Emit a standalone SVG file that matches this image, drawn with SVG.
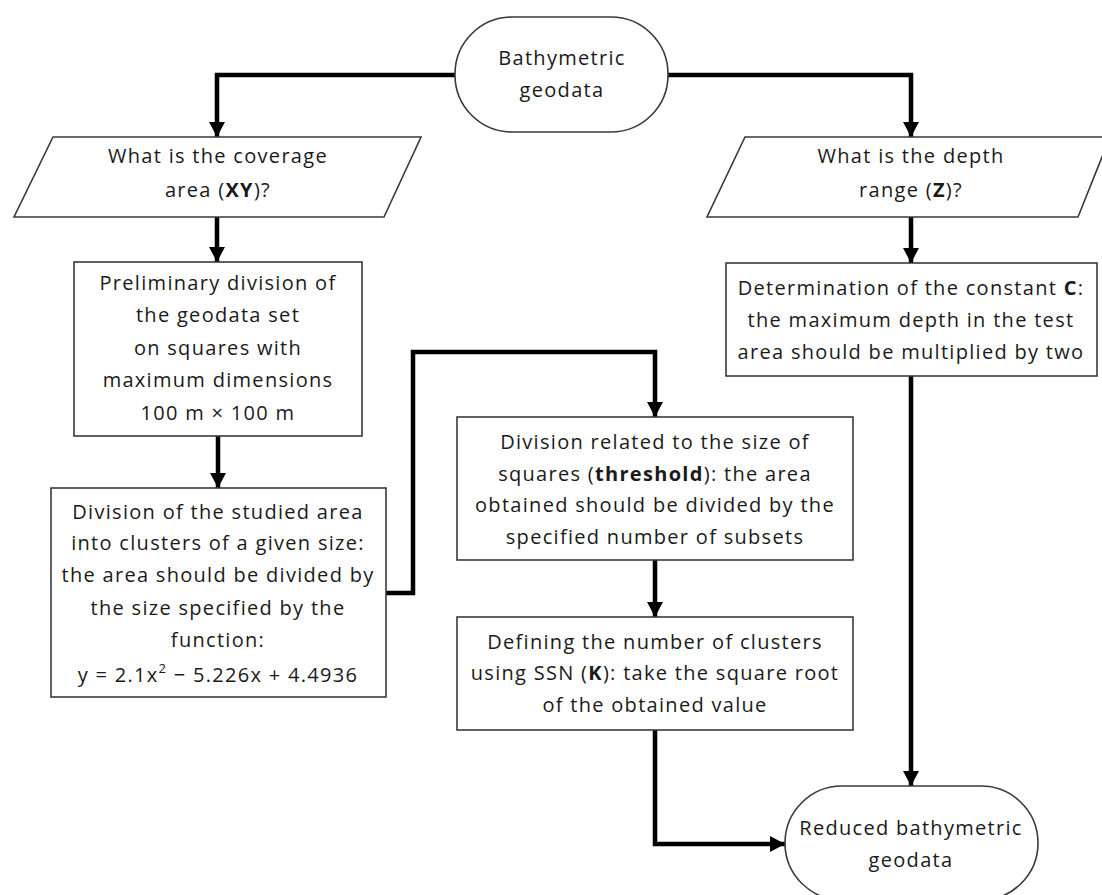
<svg xmlns="http://www.w3.org/2000/svg" width="1102" height="895" viewBox="0 0 1102 895">
<style>
.shape{fill:#fff;stroke:#3a3a3a;stroke-width:1.6}
.t{font-family:"Open Sans","Liberation Sans",sans-serif;font-size:20px;letter-spacing:1.3px;fill:#1a1a1a;text-anchor:middle}
.b{font-weight:bold}
.c{fill:none;stroke:#000;stroke-width:4.5;stroke-linejoin:miter}
</style>
<defs>
<marker id="ah" markerUnits="userSpaceOnUse" markerWidth="16" markerHeight="16" refX="15" refY="8" orient="auto">
<path d="M0,0 L15,8 L0,16 z" fill="#000"/>
</marker>
</defs>
<rect width="1102" height="895" fill="#fff"/>
<g id="connectors">
<path class="c" d="M455,75 H217 V137" marker-end="url(#ah)"/>
<path class="c" d="M668,75 H911 V137" marker-end="url(#ah)"/>
<path class="c" d="M217,217 V262" marker-end="url(#ah)"/>
<path class="c" d="M911,217 V263" marker-end="url(#ah)"/>
<path class="c" d="M218,436 V488" marker-end="url(#ah)"/>
<path class="c" d="M386,593 H413 V352 H655 V417" marker-end="url(#ah)"/>
<path class="c" d="M655,560 V617" marker-end="url(#ah)"/>
<path class="c" d="M911,376 V786" marker-end="url(#ah)"/>
<path class="c" d="M655,730 V844 H785" marker-end="url(#ah)"/>
</g>
<g id="start">
<rect class="shape" x="455" y="17" width="213" height="115" rx="57" ry="57"/>
<text class="t" x="562" y="65">Bathymetric</text>
<text class="t" x="562" y="97">geodata</text>
</g>
<g id="input-xy">
<polygon class="shape" points="53,137 421,137 384,217 14,217"/>
<text class="t" x="218" y="163">What is the coverage</text>
<text class="t" x="218" y="197">area (<tspan class="b">XY</tspan>)?</text>
</g>
<g id="input-z">
<polygon class="shape" points="745,137 1110,137 1078,217 707,217"/>
<text class="t" x="911" y="163">What is the depth</text>
<text class="t" x="911" y="197">range (<tspan class="b">Z</tspan>)?</text>
</g>
<g id="preliminary">
<rect class="shape" x="74" y="262" width="288" height="174"/>
<text class="t" x="218" y="290">Preliminary division of</text>
<text class="t" x="218" y="322">the geodata set</text>
<text class="t" x="218" y="355">on squares with</text>
<text class="t" x="218" y="387">maximum dimensions</text>
<text class="t" x="218" y="420">100 m × 100 m</text>
</g>
<g id="clusters">
<rect class="shape" x="51" y="488" width="335" height="209"/>
<text class="t" x="218" y="519">Division of the studied area</text>
<text class="t" x="218" y="550">into clusters of a given size:</text>
<text class="t" x="218" y="582">the area should be divided by</text>
<text class="t" x="218" y="615">the size specified by the</text>
<text class="t" x="218" y="647">function:</text>
<text class="t" x="218" y="682">y = 2.1x<tspan font-size="13" dy="-9">2</tspan><tspan dy="9"> − 5.226x + 4.4936</tspan></text>
</g>
<g id="constant">
<rect class="shape" x="726" y="263" width="371" height="113"/>
<text class="t" x="911" y="295">Determination of the constant <tspan class="b">C</tspan>:</text>
<text class="t" x="911" y="327">the maximum depth in the test</text>
<text class="t" x="911" y="359">area should be multiplied by two</text>
</g>
<g id="threshold">
<rect class="shape" x="457" y="417" width="396" height="143"/>
<text class="t" x="655" y="449">Division related to the size of</text>
<text class="t" x="655" y="481">squares (<tspan class="b">threshold</tspan>): the area</text>
<text class="t" x="655" y="512">obtained should be divided by the</text>
<text class="t" x="655" y="544">specified number of subsets</text>
</g>
<g id="ssn">
<rect class="shape" x="457" y="617" width="396" height="113"/>
<text class="t" x="655" y="649">Defining the number of clusters</text>
<text class="t" x="655" y="680">using SSN (<tspan class="b">K</tspan>): take the square root</text>
<text class="t" x="655" y="712">of the obtained value</text>
</g>
<g id="end">
<rect class="shape" x="785" y="786" width="253" height="114" rx="57" ry="57"/>
<text class="t" x="911" y="835">Reduced bathymetric</text>
<text class="t" x="911" y="867">geodata</text>
</g>
</svg>
